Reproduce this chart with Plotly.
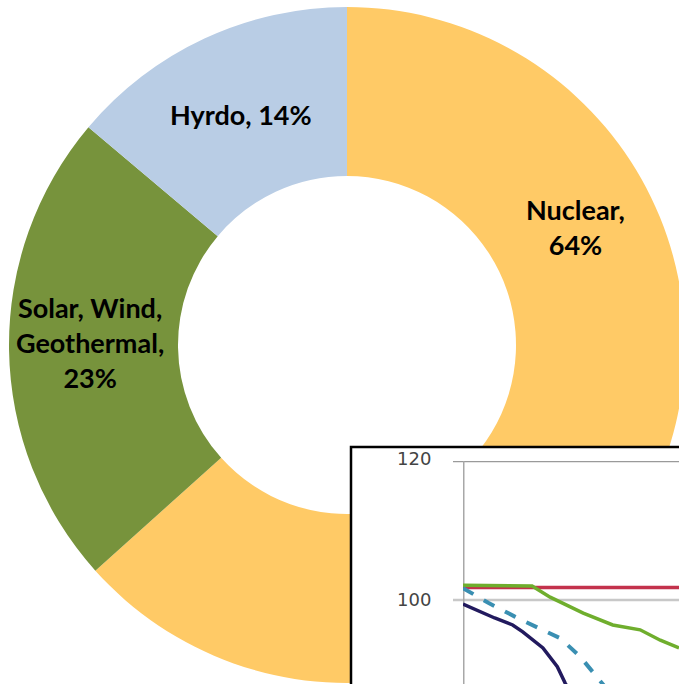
import plotly.graph_objects as go

# figure is slightly larger than the 679x684 window; the overflow is hidden
W, H = 694, 690

# ---- donut data ----
labels = ["Nuclear", "Solar, Wind, Geothermal", "Hyrdo"]
values = [64, 23, 14]
label_lines = [["Nuclear,"], ["Solar, Wind,", "Geothermal,"], ["Hyrdo,"]]
colors = ["#FFCA66", "#77933C", "#B9CDE5"]

# ---- inset line-chart data ----
red_x = [0, 30]
red_y = [101.8, 101.8]
green_x = [0, 9.6, 12.1, 16.7, 20.8, 24.6, 27.4, 30]
green_y = [102.1, 102.0, 100.4, 98.1, 96.4, 95.7, 94.2, 93.1]
navy_x = [0, 4.4, 6.9, 8.3, 11.1, 13.1, 14.2, 15.6]
navy_y = [99.4, 97.4, 96.4, 95.4, 93.1, 90.4, 88.0, 85.6]
dash_x = [0, 3.5, 7.2, 11.0, 13.5, 16.3, 19.4, 20.5]
dash_y = [101.7, 99.6, 97.6, 95.7, 94.5, 91.8, 87.9, 86.5]
inset_ticks = [100, 120]


def px(x):
    return x / W


def py(y):
    return 1 - y / H


fig = go.Figure()
fig.add_trace(go.Pie(
    labels=labels, values=values, hole=0.5, sort=False,
    direction="clockwise", rotation=0, textinfo="none",
    marker=dict(colors=colors, line=dict(width=0)),
    showlegend=False, hoverinfo="label+percent",
    domain=dict(x=[px(9), px(685)], y=[py(683), py(7)]),
))

lab_font = dict(family="Lato", size=27, color="#000000")
label_pos = [(575, 227), (90, 343), (241, 115)]
annotations = []
for lines, v, (ax, ay) in zip(label_lines, values, label_pos):
    if len(lines) == 1 and lines[0].startswith("Hyrdo"):
        txt = f"{lines[0]} {v}%"
    else:
        txt = "<br>".join(lines + [f"{v}%"])
    annotations.append(dict(text=f"<b>{txt}</b>", x=px(ax), y=py(ay), xref="paper", yref="paper",
                            showarrow=False, font=lab_font, align="center",
                            xanchor="center", yanchor="middle"))

# inset axes (scale only)
fig.update_layout(
    xaxis=dict(visible=False),
    yaxis=dict(visible=False),
    xaxis2=dict(domain=[px(463), px(679)], range=[0, 30], visible=False, anchor="y2"),
    yaxis2=dict(domain=[py(684), py(461)], range=[87.9, 120], visible=False, anchor="x2"),
)

shapes = []
# inset frame
shapes.append(dict(type="rect", xref="paper", yref="paper", x0=px(351), x1=1.05, y0=-0.05, y1=py(447),
                   fillcolor="white", line=dict(color="black", width=2.5), layer="above"))
# gridlines
shapes.append(dict(type="line", xref="paper", yref="y2", x0=px(453), x1=1, y0=120, y1=120,
                   line=dict(color="#9a9a9a", width=2.5), layer="above"))
shapes.append(dict(type="line", xref="paper", yref="y2", x0=px(453), x1=1, y0=100, y1=100,
                   line=dict(color="#c8c8c8", width=2.5), layer="above"))
# axis line
shapes.append(dict(type="line", xref="x2", yref="y2", x0=0, x1=0, y0=120, y1=87.9,
                   line=dict(color="#a8a8a8", width=3), layer="above"))


def path_from(xs, ys):
    return "M " + " L ".join(f"{a},{b}" for a, b in zip(xs, ys))


series = [
    (red_x, red_y, "#C3324C", "solid", 3.5),
    (green_x, green_y, "#6FAE2D", "solid", 3.5),
    (navy_x, navy_y, "#221A5E", "solid", 3.5),
    (dash_x, dash_y, "#3A8FB2", "dash", 4),
]
for xs, ys, c, d, w in series:
    shapes.append(dict(type="path", xref="x2", yref="y2", path=path_from(xs, ys),
                       line=dict(color=c, width=w, dash=d), layer="above"))

for t in inset_ticks:
    annotations.append(dict(text=str(t), x=px(414), y=t, xref="paper", yref="y2", showarrow=False,
                            font=dict(family="DejaVu Sans", size=18, color="#444444"),
                            xanchor="center", yanchor="middle", yshift=(3 if t == 120 else 0)))

fig.update_layout(
    width=W, height=H, margin=dict(l=0, r=0, t=0, b=0),
    paper_bgcolor="white", plot_bgcolor="white",
    shapes=shapes, annotations=annotations, showlegend=False,
)

fig.write_html(
    "out.html",
    config={"displayModeBar": False},
    post_script=(
        "document.documentElement.style.margin='0';"
        "document.documentElement.style.overflow='hidden';"
        "document.body.style.margin='0';"
        "document.body.style.overflow='hidden';"
    ),
)
